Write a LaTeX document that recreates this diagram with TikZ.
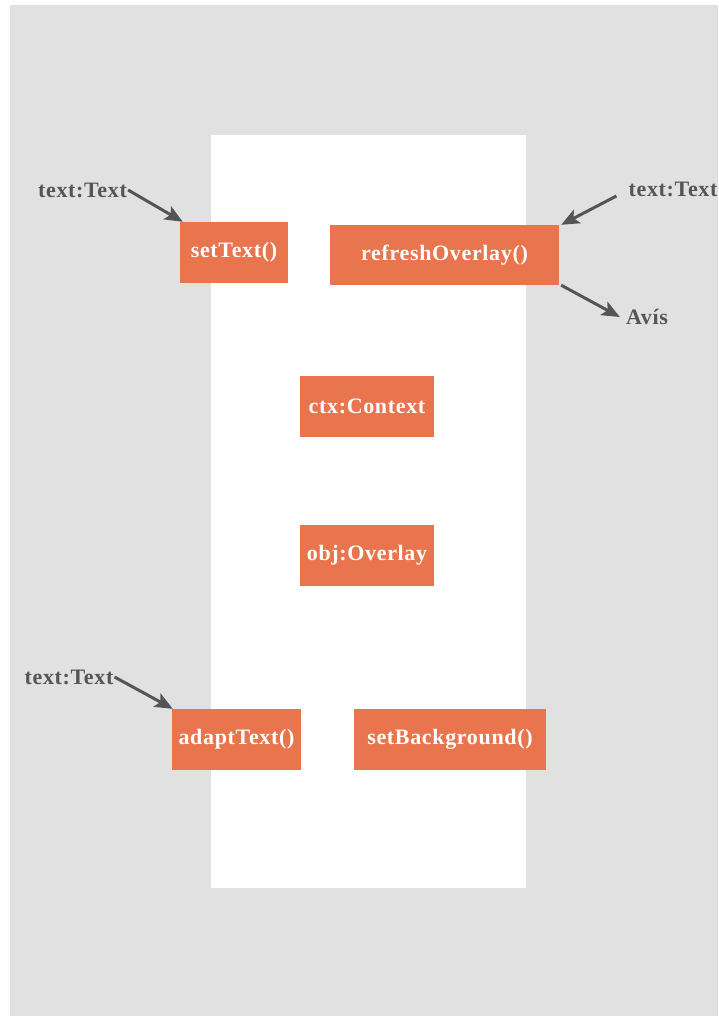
\documentclass[tikz,border=0pt]{standalone}
\usepackage{fontspec}
\usetikzlibrary{arrows.meta}
\newfontfamily\diafont[LetterSpace=3]{Liberation Serif}
\definecolor{panelgray}{HTML}{E1E1E1}
\definecolor{boxorange}{HTML}{E9754F}
\definecolor{inkgray}{HTML}{555555}

\begin{document}
\begin{tikzpicture}[x=1pt,y=-1pt,>={Stealth[length=18pt,width=15pt,inset=4pt]},
    font=\diafont\bfseries\fontsize{22}{26}\selectfont,
    call/.style={fill=boxorange,text=white,inner sep=0pt,minimum height=61pt},
    param/.style={text=inkgray,inner sep=1pt},
    link/.style={->,draw=inkgray,line width=3pt}]

    % background and panel
    \useasboundingbox (0,0) rectangle (718,1016);
    \fill[white] (0,0) rectangle (718,1016);
    \fill[panelgray] (10,5) rectangle (718,1016);
    \fill[white] (211,135) rectangle (526,888);

    \node[call,minimum width=108pt] (setText) at (234,252.5) {setText()};
    \node[call,minimum width=229pt,minimum height=60pt] (refresh) at (444.5,255) {refreshOverlay()};
    \node[call,minimum width=134pt] (ctx) at (367,406.5) {ctx:Context};
    \node[call,minimum width=134pt] (obj) at (367,555.5) {obj:Overlay};
    \node[call,minimum width=129pt] (adapt) at (236.5,739.5) {adaptText()};
    \node[call,minimum width=192pt] (setBg) at (450,739.5) {setBackground()};

    \node[param] (inSet) at (82.5,190) {text:Text};
    \draw[link] (inSet.east) to ([xshift=3pt]setText.north west);

    \node[param] (inRefresh) at (673,189) {text:Text};
    \draw[link] ([xshift=-11pt,yshift=-7pt]inRefresh.west) to ([xshift=2pt]refresh.north east);

    \node[param,inner sep=6pt] (avis) at (647,317) {Avís};
    \draw[link] ([xshift=2pt]refresh.south east) to (avis.west);

    \node[param] (inAdapt) at (69,677) {text:Text};
    \draw[link] (inAdapt.east) to ([xshift=1pt]adapt.north west);

\end{tikzpicture}
\end{document}
